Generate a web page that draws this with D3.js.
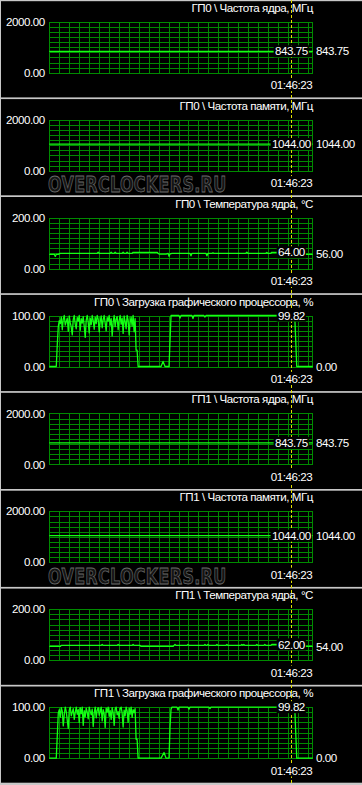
<!DOCTYPE html>
<html>
<head>
<meta charset="utf-8">
<script src="https://cdn.jsdelivr.net/npm/d3@7"></script>
<style>
  html, body { margin: 0; padding: 0; background: #c8c8c8; }
  svg { display: block; }
  text { font-family: "Liberation Sans", Arial, sans-serif; font-size: 11.6px; letter-spacing: -0.45px; fill: #ffffff; }
</style>
</head>
<body>
<script>
// ---------- data ----------
const panelTitles = [
  "ГП0 \\ Частота ядра, МГц",
  "ГП0 \\ Частота памяти, МГц",
  "ГП0 \\ Температура ядра, °C",
  "ГП0 \\ Загрузка графического процессора, %",
  "ГП1 \\ Частота ядра, МГц",
  "ГП1 \\ Частота памяти, МГц",
  "ГП1 \\ Температура ядра, °C",
  "ГП1 \\ Загрузка графического процессора, %"
];
const axisMax = [2000, 2000, 200, 100, 2000, 2000, 200, 100];
const yTopLabels = ["2000.00", "2000.00", "200.00", "100.00", "2000.00", "2000.00", "200.00", "100.00"];
const yBottomLabels = ["0.00", "0.00", "0.00", "0.00", "0.00", "0.00", "0.00", "0.00"];
const cursorValues = [843.75, 1044.00, 64.00, 99.82, 843.75, 1044.00, 62.00, 99.82];
const currentValues = [843.75, 1044.00, 56.00, 0.00, 843.75, 1044.00, 54.00, 0.00];
const cursorTime = "01:46:23";
const cursorSample = 242.2;
const sampleCount = 264;

// series as [sample, value]
const gpu0CoreClock = [[0, 843.75], [264, 843.75]];
const gpu0MemClock = [[0, 1044], [264, 1044]];
const gpu0Temp = [[0,56],[5,56],[6,48],[7,56],[9,56],[11,60],[48,60],[49,64],[50,60],[61,60],[62,64],[63,60],[65,60],[66,64],[67,60],[73,60],[74,64],[75,60],[77,60],[78,64],[79,60],[83,60],[84,64],[108,64],[109,60],[110,57],[117,57],[119,60],[120,48],[121,58],[123,60],[141,60],[142,50],[143,60],[157,60],[158,50],[159,60],[163,60],[164,62],[165,60],[197,60],[198,64],[199,60],[217,60],[218,63],[219,60],[222,60],[223,64],[230,64],[240,64],[248,60],[255,56],[264,56]];
const gpu0LoadStart = [[0,0],[7,0],[8,43]];
const gpu0LoadBurst = [78,90,84,97,72,93,100,81,88,95,
  69,99,86,77,62,92,100,83,74,96,
  89,100,71,94,85,98,79,57,91,100,
  87,66,95,82,100,90,73,97,84,100,
  93,68,88,99,76,92,100,85,70,96,
  89,100,81,94,60,87,100,78,93,98,
  72,90,100,83,95,65,99,88,74,100,
  91,62,86,97,79,100,68,94];
const gpu0LoadEnd = [[87,32],[88,32],[89,0],[112,0],[114,10],[116,0],[120,0],[121,50],[122,100],[130,100],[131,95],[132,100],[143,100],[144,94],[145,100],[155,100],[156,97],[157,100],[246,100],[247,50],[248,0],[264,0]];

const gpu1CoreClock = [[0, 843.75], [264, 843.75]];
const gpu1MemClock = [[0, 1044], [264, 1044]];
const gpu1Temp = [[0,54],[11,54],[12,58],[52,58],[53,62],[54,58],[68,58],[69,62],[70,58],[83,58],[84,62],[85,58],[91,58],[92,54],[124,54],[125,58],[126,62],[127,58],[138,58],[139,62],[140,58],[155,58],[156,62],[157,58],[158,58],[159,62],[160,58],[167,58],[168,62],[169,58],[177,58],[178,62],[179,58],[192,58],[193,62],[194,58],[195,62],[196,58],[207,58],[208,62],[209,58],[215,58],[216,62],[217,58],[222,58],[223,62],[226,62],[240,62],[250,60],[256,54],[264,54]];
const gpu1LoadStart = [[0,0],[7,0],[8,44]];
const gpu1LoadBurst = [88,95,80,99,92,63,85,100,91,74,
  58,94,100,83,90,97,76,89,100,86,
  95,70,99,87,100,64,93,81,98,90,
  77,100,92,85,96,62,88,100,79,94,
  99,84,91,100,73,95,87,60,98,90,
  100,82,93,76,99,89,64,96,100,85,
  91,78,97,100,88,61,94,83,100,92,
  70,98,86,100,80,95,89,97];
const gpu1LoadEnd = [[87,37],[88,37],[89,0],[112,0],[115,11],[117,0],[120,0],[121,60],[122,96],[123,100],[128,100],[129,94],[130,100],[139,100],[140,96],[141,100],[160,100],[161,97],[162,100],[246,100],[247,50],[248,0],[264,0]];
const burstStart = 9;

function buildLoad(start, burst, end) {
  return start.concat(burst.map((v, k) => [burstStart + k, v]), end);
}
const panelSeries = [
  gpu0CoreClock, gpu0MemClock, gpu0Temp, buildLoad(gpu0LoadStart, gpu0LoadBurst, gpu0LoadEnd),
  gpu1CoreClock, gpu1MemClock, gpu1Temp, buildLoad(gpu1LoadStart, gpu1LoadBurst, gpu1LoadEnd)
];
const watermarkPanels = [1, 5];

// ---------- layout ----------
const W = 362, H = 785;
const pitch = 97.9;
const gridTopRel = 21.8, gridBotRel = 72.8;
const x = d3.scaleLinear().domain([0, sampleCount]).range([49.3, 312.7]);
const cursorX = 291.5;

const svg = d3.select("body").append("svg").attr("width", W).attr("height", H);
svg.append("rect").attr("width", W).attr("height", H).attr("fill", "#c8c8c8");

const gBg = svg.append("g"), gPlot = svg.append("g"), gCursor = svg.append("g"), gLab = svg.append("g");

panelTitles.forEach((title, i) => {
  const top = i * pitch;
  const y = d3.scaleLinear().domain([0, axisMax[i]]).range([top + gridBotRel, top + gridTopRel]);

  gBg.append("rect").attr("x", 1).attr("y", top + 1.2).attr("width", W - 1).attr("height", pitch - 1.7).attr("fill", "#000");

  // watermark (faint logo)
  if (watermarkPanels.includes(i)) {
    gBg.append("text")
      .attr("transform", `translate(48,${top + 94.5}) scale(1.0,1.3)`)
      .style("font-size", "16px").style("font-weight", "bold").style("letter-spacing", "0.3px")
      .style("font-family", "'DejaVu Sans', sans-serif")
      .style("fill", "#141414").style("stroke", "#6a6a6a").style("stroke-width", "0.6px")
      .text("OVERCLOCKERS.RU");
  }

  const g = gPlot.append("g");
  // grid
  const vTicks = d3.range(0, 261, 10).concat([sampleCount]);
  g.selectAll(".v").data(vTicks).join("line")
    .attr("x1", d => Math.floor(x(d)) + 0.5).attr("x2", d => Math.floor(x(d)) + 0.5)
    .attr("y1", y(0)).attr("y2", y(axisMax[i]))
    .attr("stroke", "#008a00").attr("stroke-width", 1).attr("shape-rendering", "crispEdges");
  const hTicks = d3.range(0, 11).map(k => axisMax[i] * k / 10);
  g.selectAll(".h").data(hTicks).join("line")
    .attr("x1", x(0)).attr("x2", x(sampleCount))
    .attr("y1", d => Math.round(y(d)) + 0.5).attr("y2", d => Math.round(y(d)) + 0.5)
    .attr("stroke", "#008a00").attr("stroke-width", 1).attr("shape-rendering", "crispEdges");

  // data line
  const line = d3.line().x(d => x(d[0])).y(d => y(d[1]));
  g.append("path").attr("d", line(panelSeries[i]))
    .attr("fill", "none").attr("stroke", "#14ff14").attr("stroke-width", 1.3).attr("stroke-linejoin", "round");

  // labels
  gLab.append("text").attr("x", 313).attr("y", top + 11.8).attr("text-anchor", "end").text(title);
  gLab.append("text").attr("x", 44.8).attr("y", y(axisMax[i])).attr("dy", "0.36em").attr("text-anchor", "end").text(yTopLabels[i]);
  gLab.append("text").attr("x", 44.8).attr("y", y(0)).attr("dy", "0.36em").attr("text-anchor", "end").text(yBottomLabels[i]);

  // cursor value label with black box
  const cv = gLab.append("g");
  const cvText = cv.append("text").attr("x", cursorX).attr("y", y(cursorValues[i])).attr("dy", "0.36em")
    .attr("text-anchor", "middle").text(d3.format(".2f")(cursorValues[i]));
  const bb = cvText.node().getBBox();
  cv.insert("rect", "text").attr("x", bb.x - 1.5).attr("y", y(cursorValues[i]) - 6).attr("width", bb.width + 2.5).attr("height", 12).attr("fill", "#000");

  // current value
  gLab.append("text").attr("x", 316).attr("y", y(currentValues[i])).attr("dy", "0.36em").text(d3.format(".2f")(currentValues[i]));

  // time label
  const tl = gLab.append("g");
  const tt = tl.append("text").attr("x", cursorX).attr("y", top + 89.2).attr("text-anchor", "middle").text(cursorTime);
  const tb = tt.node().getBBox();
  tl.insert("rect", "text").attr("x", tb.x - 1).attr("y", tb.y).attr("width", tb.width + 2).attr("height", tb.height).attr("fill", "#000");
});

// cursor dashed line across all panels
gCursor.append("line").attr("x1", cursorX).attr("x2", cursorX).attr("y1", 0).attr("y2", H)
  .attr("stroke", "#dede00").attr("stroke-width", 1).attr("stroke-dasharray", "3,2");
</script>
</body>
</html>
